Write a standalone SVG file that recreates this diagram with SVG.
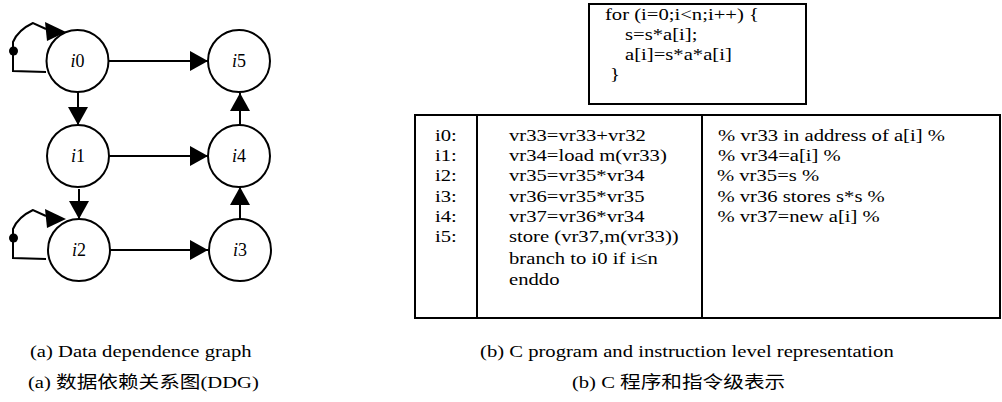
<svg xmlns="http://www.w3.org/2000/svg" width="1002" height="402" viewBox="0 0 1002 402">
<style>
.node{fill:#fff;stroke:#000;stroke-width:2}
.edge{fill:none;stroke:#000;stroke-width:2}
.head{fill:#000;stroke:none}
.lbl{font-family:"Liberation Serif","Times New Roman",serif;font-size:18px;fill:#000;text-anchor:middle}
.t{font-family:"Liberation Serif","Noto Sans CJK SC",serif;font-size:17.5px;fill:#000}
.box{fill:#fff;stroke:#000;stroke-width:2}
</style>
<defs>
<marker id="arr" markerUnits="userSpaceOnUse" markerWidth="18" markerHeight="20" refX="18" refY="10" orient="auto">
<path d="M0,0 L18,10 L0,20 Z" fill="#000"/>
</marker>
</defs>
<g id="connectors">
<path class="edge" d="M109,61 L208,61" marker-end="url(#arr)"/>
<path class="edge" d="M78,92 L78,125" marker-end="url(#arr)"/>
<path class="edge" d="M109,156 L208,156" marker-end="url(#arr)"/>
<path class="edge" d="M240,125 L240,93" marker-end="url(#arr)"/>
<path class="edge" d="M79,189 L79,219" marker-end="url(#arr)"/>
<path class="edge" d="M109,250 L208,250" marker-end="url(#arr)"/>
<path class="edge" d="M240,219 L240,187" marker-end="url(#arr)"/>
<g id="loop0">
<path class="edge" d="M46,72 L13,71 L13,42 Q18,30 33,23 L46,29"/>
<polygon class="head" points="45,22 47,41 66,32"/>
<circle class="head" cx="13.5" cy="51" r="4.5"/>
</g>
<g id="loop2" transform="translate(0,187)">
<path class="edge" d="M46,72 L13,71 L13,42 Q18,30 33,23 L46,29"/>
<polygon class="head" points="45,22 47,41 66,32"/>
<circle class="head" cx="13.5" cy="51" r="4.5"/>
</g>
</g>
<g id="i0"><circle class="node" cx="77.5" cy="61" r="31"/><text class="lbl" x="77.5" y="67"><tspan font-style="italic">i</tspan>0</text></g>
<g id="i5"><circle class="node" cx="239" cy="61" r="31"/><text class="lbl" x="239" y="67"><tspan font-style="italic">i</tspan>5</text></g>
<g id="i1"><circle class="node" cx="78" cy="156" r="31"/><text class="lbl" x="78" y="162"><tspan font-style="italic">i</tspan>1</text></g>
<g id="i4"><circle class="node" cx="239" cy="156" r="31"/><text class="lbl" x="239" y="162"><tspan font-style="italic">i</tspan>4</text></g>
<g id="i2"><circle class="node" cx="79" cy="250" r="31"/><text class="lbl" x="79" y="256"><tspan font-style="italic">i</tspan>2</text></g>
<g id="i3"><circle class="node" cx="240" cy="250" r="31"/><text class="lbl" x="240" y="256"><tspan font-style="italic">i</tspan>3</text></g>
<g id="cprogram">
<rect class="box" x="589" y="4" width="217" height="100" stroke-width="2.5"/>
</g>
<g id="table">
<rect class="box" x="415" y="115" width="585" height="203"/>
<line class="edge" x1="477" y1="115" x2="477" y2="318"/>
<line class="edge" x1="702" y1="115" x2="702" y2="318"/>
</g>
<g id="texts" transform="scale(1.18,1)">
<text class="t" x="512.7" y="20">for (i=0;i&lt;n;i++) {</text>
<text class="t" x="529.7" y="40">s=s*a[i];</text>
<text class="t" x="529.7" y="60">a[i]=s*a*a[i]</text>
<text class="t" x="516.9" y="80">}</text>
<text class="t" x="368.6" y="141">i0:</text>
<text class="t" x="368.6" y="161">i1:</text>
<text class="t" x="368.6" y="181">i2:</text>
<text class="t" x="368.6" y="202">i3:</text>
<text class="t" x="368.6" y="222">i4:</text>
<text class="t" x="368.6" y="242">i5:</text>
<text class="t" x="431.4" y="141">vr33=vr33+vr32</text>
<text class="t" x="431.4" y="161">vr34=load m(vr33)</text>
<text class="t" x="431.4" y="181">vr35=vr35*vr34</text>
<text class="t" x="431.4" y="202">vr36=vr35*vr35</text>
<text class="t" x="431.4" y="222">vr37=vr36*vr34</text>
<text class="t" x="431.4" y="242">store (vr37,m(vr33))</text>
<text class="t" x="431.4" y="264">branch to i0 if i≤n</text>
<text class="t" x="431.4" y="285">enddo</text>
<text class="t" x="608.5" y="141">% vr33 in address of a[i] %</text>
<text class="t" x="608.5" y="161">% vr34=a[i] %</text>
<text class="t" x="607.6" y="181">% vr35=s %</text>
<text class="t" x="608" y="202">% vr36 stores s*s %</text>
<text class="t" x="608" y="222">% vr37=new a[i] %</text>
<text class="t" x="25.4" y="357">(a) Data dependence graph</text>
<text class="t" x="23.7" y="388">(a)  数据依赖关系图(DDG)</text>
<text class="t" x="406.8" y="357">(b) C program and instruction level representation</text>
<text class="t" x="484.7" y="388">(b) C 程序和指令级表示</text>
</g>
</svg>
